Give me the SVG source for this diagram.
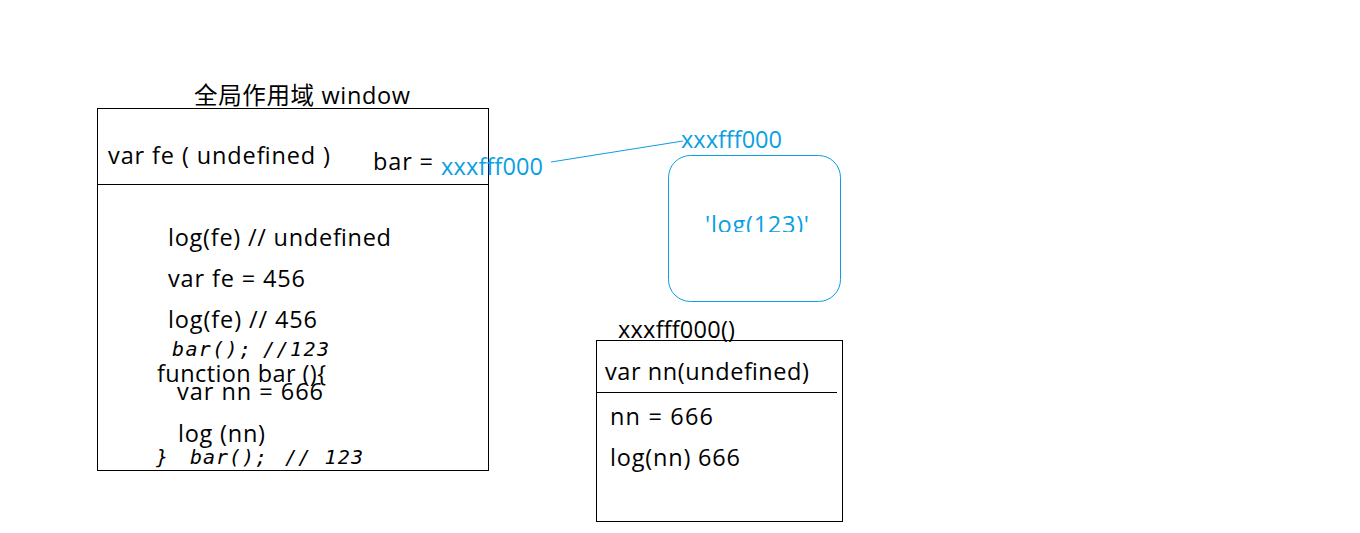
<svg xmlns="http://www.w3.org/2000/svg" width="1360" height="533" viewBox="0 0 1360 533">
<style>
.t{font-family:"Open Sans","Noto Sans","Noto Sans CJK SC",sans-serif;font-size:23.5px;fill:#000}
.b{fill:#0a9fe3}
.c{font-family:"DejaVu Sans Mono","Liberation Mono",monospace;font-style:italic;font-size:20px;fill:#000}
.box{fill:none;stroke:#000;stroke-width:1}
</style>
<defs>
<clipPath id="clipLog"><rect x="670" y="150" width="170" height="82"/></clipPath>
</defs>
<rect width="1360" height="533" fill="#fff"/>
<g id="global-scope">
<text class="t" x="194" y="104" textLength="216">全局作用域 window</text>
<rect class="box" x="97.5" y="108.5" width="391" height="362"/>
<line x1="98" y1="184.5" x2="489" y2="184.5" stroke="#000"/>
<text class="t" x="108" y="164" textLength="222">var fe ( undefined )</text>
<text class="t" x="373" y="170" textLength="60">bar =</text>
<text class="t b" x="441" y="175" textLength="102">xxxfff000</text>
<text class="t" x="168" y="246" textLength="223">log(fe) // undefined</text>
<text class="t" x="168" y="287" textLength="137">var fe = 456</text>
<text class="t" x="168" y="328" textLength="149">log(fe) // 456</text>
<text class="c" x="172" y="356" textLength="79">bar();</text>
<text class="c b" x="263" y="356" textLength="66">//123</text>
<text class="t" x="157" y="382" textLength="169">function bar (){</text>
<text class="t" x="177" y="400" textLength="146">var nn = 666</text>
<text class="t" x="178" y="442" textLength="87">log (nn)</text>
<text class="c" x="156" y="464">}</text>
<text class="c" x="190" y="464" textLength="77">bar();</text>
<text class="c b" x="285" y="464" textLength="78">// 123</text>
</g>
<g id="heap-object">
<text class="t b" x="681" y="148" textLength="101">xxxfff000</text>
<rect x="668.5" y="155.5" width="172" height="146" rx="22" fill="none" stroke="#0a9fe3" stroke-width="1"/>
<g clip-path="url(#clipLog)">
<text class="t b" x="705" y="233" textLength="104">'log(123)'</text>
</g>
</g>
<g id="function-scope">
<text class="t" x="618" y="338" textLength="117">xxxfff000()</text>
<rect class="box" x="596.5" y="340.5" width="246" height="181"/>
<line x1="597" y1="392.5" x2="837" y2="392.5" stroke="#000"/>
<text class="t" x="605" y="380" textLength="204">var nn(undefined)</text>
<text class="t" x="610" y="425" textLength="103">nn = 666</text>
<text class="t" x="610" y="466" textLength="130">log(nn) 666</text>
</g>
<g id="connectors">
<line x1="551" y1="162" x2="683" y2="141" stroke="#0a9fe3" stroke-width="1"/>
</g>
</svg>
